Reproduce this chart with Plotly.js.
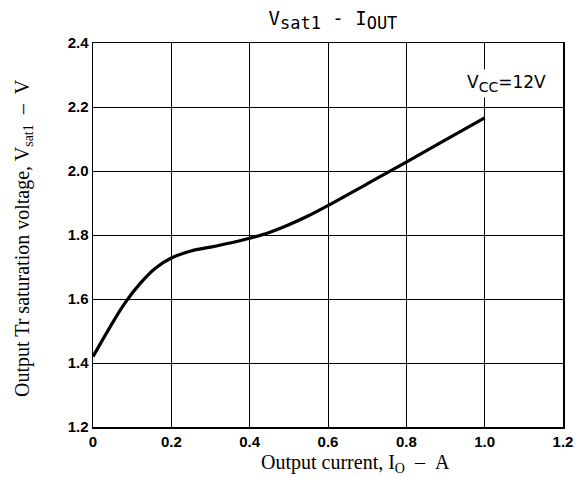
<!DOCTYPE html>
<html>
<head>
<meta charset="utf-8">
<script src="https://cdn.plot.ly/plotly-3.0.1.min.js"></script>
<style>html,body{margin:0;padding:0;background:#fff;}</style>
</head>
<body>
<div id="chart" style="width:576px;height:478px;"></div>
<script>
const currentA = [0, 0.04, 0.08, 0.12, 0.16, 0.2, 0.25, 0.3, 0.35, 0.4, 0.45, 0.5, 0.55, 0.6, 0.7, 0.8, 0.9, 1.0];
const vsatV = [1.42, 1.505, 1.585, 1.648, 1.697, 1.728, 1.750, 1.762, 1.775, 1.790, 1.808, 1.832, 1.860, 1.892, 1.960, 2.028, 2.097, 2.166];
const xTickVals = [0, 0.2, 0.4, 0.6, 0.8, 1.0, 1.2];
const xTickText = ["0", "0.2", "0.4", "0.6", "0.8", "1.0", "1.2"];
const yTickVals = [1.2, 1.4, 1.6, 1.8, 2.0, 2.2, 2.4];
const yTickText = ["1.2", "1.4", "1.6", "1.8", "2.0", "2.2", "2.4"];

const tickFont = {family: "Liberation Sans Narrow, Liberation Sans, Arial", size: 15, color: "#000", weight: 700};
const serif = {family: "Liberation Serif, Times New Roman, serif", size: 20, color: "#000"};
const sp = "\u00a0\u00a0";

Plotly.newPlot("chart", [{
  x: currentA, y: vsatV, type: "scatter", mode: "lines",
  line: {color: "#000", width: 3.2, shape: "spline", smoothing: 1.0},
  hoverinfo: "skip"
}], {
  width: 576, height: 478,
  margin: {l: 93, r: 13, t: 43, b: 51},
  paper_bgcolor: "#fff", plot_bgcolor: "#fff",
  showlegend: false,
  title: {text: "V<sub><span style=\"font-size:17px\">sat1</span></sub> - I<sub><span style=\"font-size:17px\">OUT</span></sub>", font: {family: "DejaVu Sans Mono, monospace", size: 19, color: "#000"}, x: 0.578, xanchor: "center", y: 0.962, yanchor: "middle"},
  xaxis: {
    range: [0, 1.2], tickvals: xTickVals, ticktext: xTickText,
    showgrid: true, gridcolor: "#000", gridwidth: 1,
    showline: true, linecolor: "#000", linewidth: 1.5, mirror: true,
    zeroline: false, ticks: "", tickfont: tickFont
  },
  yaxis: {
    range: [1.2, 2.4], tickvals: yTickVals, ticktext: yTickText,
    showgrid: true, gridcolor: "#000", gridwidth: 1,
    showline: true, linecolor: "#000", linewidth: 1.5, mirror: true,
    zeroline: false, ticks: "", tickfont: tickFont
  },
  annotations: [{
    x: 0.5, y: -0.1, xref: "paper", yref: "paper",
    text: "Output current, I<sub>O</sub>" + sp + "\u2013" + sp + "A", showarrow: false,
    font: serif, xanchor: "center", yanchor: "middle"
  }, {
    x: -0.1, y: 0.5, xref: "paper", yref: "paper",
    text: "Output Tr saturation voltage, V<sub>sat1</sub>" + sp + "\u2013" + sp + "V", showarrow: false,
    font: serif, textangle: -90, xanchor: "center", yanchor: "middle"
  }, {
    x: 1.055, y: 2.275, xref: "x", yref: "y",
    text: "V<sub><span style=\"font-size:14px\">CC</span></sub>=12V", showarrow: false,
    font: {family: "DejaVu Sans, sans-serif", size: 17, color: "#000"},
    bgcolor: "#fff", borderpad: 2
  }]
}, {displayModeBar: false, staticPlot: true}).then(function(gd){
  // place the two axis-title annotations at pixel positions, expressed as paper fractions
  const fl = gd._fullLayout;
  const pw = fl._size.w, ph = fl._size.h, l = fl._size.l, t = fl._size.t;
  const anns = gd.layout.annotations.slice();
  anns[0] = Object.assign({}, anns[0], {x: (355 - l) / pw, y: 1 - (463 - t) / ph});
  anns[1] = Object.assign({}, anns[1], {x: (23 - l) / pw, y: 1 - (238 - t) / ph});
  return Plotly.relayout(gd, {annotations: anns});
});
</script>
</body>
</html>
